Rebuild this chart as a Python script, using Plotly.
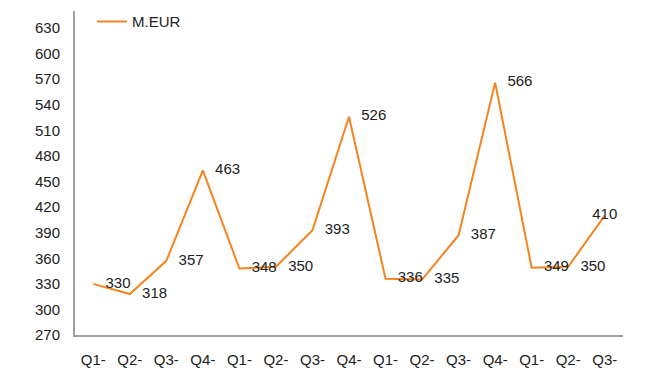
import plotly.graph_objects as go

categories = ["Q1-", "Q2-", "Q3-", "Q4-", "Q1-", "Q2-", "Q3-", "Q4-",
              "Q1-", "Q2-", "Q3-", "Q4-", "Q1-", "Q2-", "Q3-"]
values = [330, 318, 357, 463, 348, 350, 393, 526, 336, 335, 387, 566, 349, 350, 410]
y_ticks = [270, 300, 330, 360, 390, 420, 450, 480, 510, 540, 570, 600, 630]
series_name = "M.EUR"

x_idx = list(range(len(values)))
# last label sits over its point (the reference pushes it inward at the right edge)
text_pos = ["middle right"] * (len(values) - 1) + ["middle center"]

fig = go.Figure()
fig.add_trace(go.Scatter(
    x=x_idx, y=values, name=series_name,
    mode="lines+markers+text",
    line=dict(color="#F5841F", width=2),
    marker=dict(size=18, color="rgba(0,0,0,0)"),
    text=[str(v) for v in values],
    textposition=text_pos,
    textfont=dict(family="Liberation Sans, Arial, sans-serif", size=15, color="#222222"),
    cliponaxis=False,
))

fig.update_layout(
    width=665, height=370,
    margin=dict(l=75, r=42, t=11, b=35, autoexpand=False),
    paper_bgcolor="white", plot_bgcolor="white",
    font=dict(family="Liberation Sans, Arial, sans-serif", size=15, color="#222222"),
    showlegend=True,
    legend=dict(x=0.031, y=1.018, xanchor="left", yanchor="top",
                bgcolor="rgba(0,0,0,0)", font=dict(size=15)),
    xaxis=dict(
        tickmode="array", tickvals=x_idx, ticktext=categories,
        range=[-0.5, len(values) - 0.5],
        showgrid=False, zeroline=False, automargin=False,
        showline=True, linecolor="#A0A0A0", linewidth=2,
        ticks="", ticklabelstandoff=10,
    ),
    yaxis=dict(
        tickmode="array", tickvals=y_ticks,
        range=[270, 650],
        showgrid=False, zeroline=False, automargin=False,
        showline=True, linecolor="#A0A0A0", linewidth=2,
        ticks="", ticklabelstandoff=10,
    ),
)

fig.write_html("out.html", config={"displayModeBar": False},
               post_script="document.body.style.margin='0';")
